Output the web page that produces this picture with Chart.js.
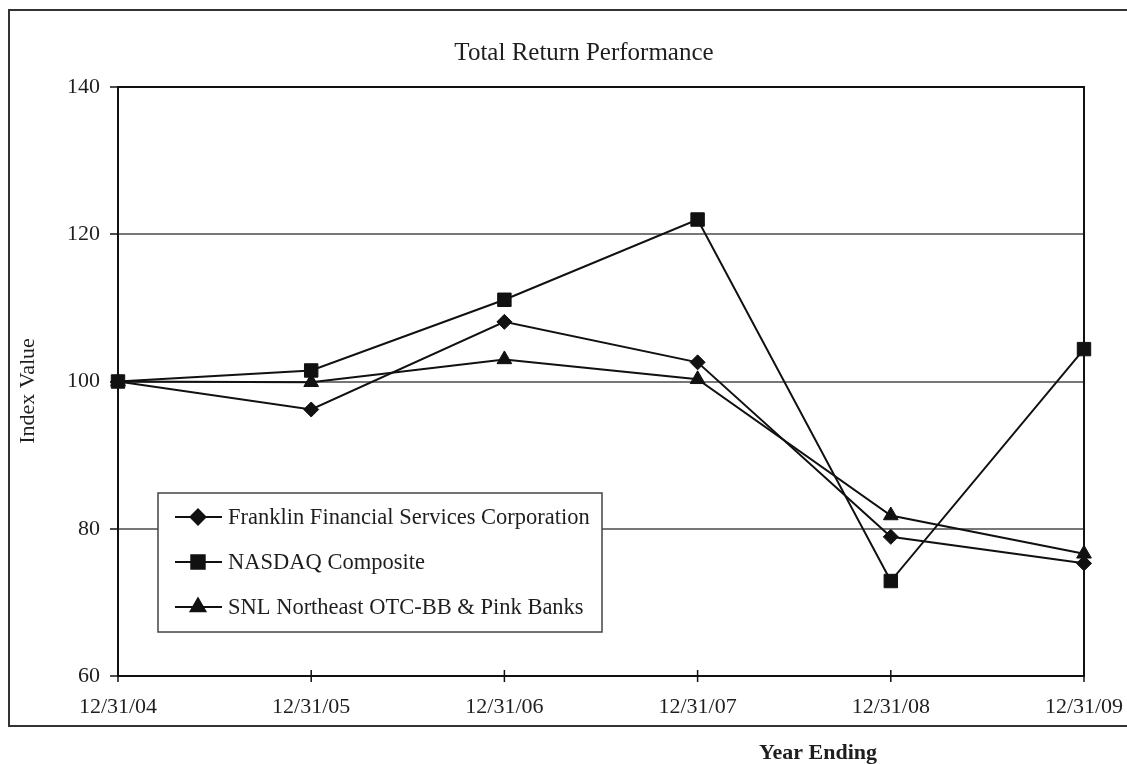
<!DOCTYPE html>
<html>
<head>
<meta charset="utf-8">
<script src="https://cdn.jsdelivr.net/npm/chart.js@4"></script>
<style>
  html, body { margin: 0; padding: 0; background: #fff; }
  #wrap { width: 1127px; height: 764px; position: relative; }
</style>
</head>
<body>
<div id="wrap"><canvas id="chart" width="1127" height="764"></canvas></div>
<script>
// chart data
const years = ["12/31/04", "12/31/05", "12/31/06", "12/31/07", "12/31/08", "12/31/09"];
const franklin = [100, 96.2, 108.1, 102.6, 78.9, 75.3];
const nasdaq = [100, 101.5, 111.1, 122.0, 72.9, 104.4];
const snl = [100, 99.9, 103.0, 100.3, 81.8, 76.6];
const seriesNames = [
  "Franklin Financial Services Corporation",
  "NASDAQ Composite",
  "SNL Northeast OTC-BB & Pink Banks"
];
const yTicks = [60, 80, 100, 120, 140];

const serif = "'Liberation Serif', 'Times New Roman', serif";
const ink = "#1e1e1e";

function series(label, values, style, radius) {
  return {
    label: label,
    data: values,
    borderColor: "#111",
    backgroundColor: "#111",
    borderWidth: 2,
    pointStyle: style,
    pointRadius: radius,
    pointHoverRadius: radius,
    pointBorderWidth: 1,
    tension: 0
  };
}

// frame, titles, plot box, legend box
const decorations = {
  id: "decorations",
  beforeDraw(chart) {
    const ctx = chart.ctx;
    ctx.save();
    ctx.fillStyle = "#fff";
    ctx.fillRect(0, 0, chart.width, chart.height);
    ctx.strokeStyle = "#333";
    ctx.lineWidth = 2;
    ctx.strokeRect(9, 10, 1140, 716);
    ctx.restore();
  },
  afterDraw(chart) {
    const ctx = chart.ctx;
    const a = chart.chartArea;
    ctx.save();
    ctx.strokeStyle = "#111";
    ctx.lineWidth = 2;
    ctx.strokeRect(a.left, a.top, a.right - a.left, a.bottom - a.top);

    // x ticks crossing the axis
    const xs = chart.scales.x;
    ctx.lineWidth = 1.5;
    xs.ticks.forEach((t, i) => {
      const px = xs.getPixelForTick(i);
      ctx.beginPath();
      ctx.moveTo(px, a.bottom - 6);
      ctx.lineTo(px, a.bottom + 6);
      ctx.stroke();
    });

    ctx.fillStyle = ink;
    ctx.textAlign = "center";
    ctx.textBaseline = "middle";
    ctx.font = "25px " + serif;
    ctx.fillText("Total Return Performance", 584, 53);
    ctx.font = "bold 22px " + serif;
    ctx.fillText("Year Ending", 818, 753);

    ctx.save();
    ctx.translate(28, 391);
    ctx.rotate(-Math.PI / 2);
    ctx.font = "22px " + serif;
    ctx.fillText("Index Value", 0, 0);
    ctx.restore();

    // legend
    const lx = 158, ly = 493, lw = 444, lh = 139;
    ctx.fillStyle = "#fff";
    ctx.fillRect(lx, ly, lw, lh);
    ctx.strokeStyle = "#444";
    ctx.lineWidth = 1.5;
    ctx.strokeRect(lx, ly, lw, lh);
    const rows = [517, 562, 607];
    chart.data.datasets.forEach((ds, i) => {
      const y = rows[i];
      ctx.strokeStyle = "#111";
      ctx.lineWidth = 2;
      ctx.beginPath();
      ctx.moveTo(175, y);
      ctx.lineTo(222, y);
      ctx.stroke();
      ctx.fillStyle = "#111";
      Chart.helpers.drawPoint(ctx, {
        pointStyle: ds.pointStyle,
        radius: ds.pointRadius,
        rotation: 0,
        borderWidth: 1
      }, 198, y);
      ctx.fillStyle = ink;
      ctx.textAlign = "left";
      ctx.font = "22.5px " + serif;
      ctx.fillText(ds.label, 228, y + 1);
    });
    ctx.restore();
  }
};

new Chart(document.getElementById("chart"), {
  type: "line",
  data: {
    labels: years,
    datasets: [
      series(seriesNames[0], franklin, "rectRot", 7.5),
      series(seriesNames[1], nasdaq, "rect", 9.5),
      series(seriesNames[2], snl, "triangle", 8.5)
    ]
  },
  options: {
    responsive: false,
    animation: false,
    layout: { padding: { top: 87, right: 43, left: 0, bottom: 0 } },
    plugins: {
      legend: { display: false },
      title: { display: false },
      tooltip: { enabled: false }
    },
    scales: {
      x: {
        offset: false,
        afterFit(scale) {
          scale.height = 88;
          scale.paddingLeft = 0;
          scale.paddingRight = 0;
        },
        grid: { drawOnChartArea: false, drawTicks: false },
        border: { display: false },
        ticks: {
          color: ink,
          padding: 18,
          maxRotation: 0,
          font: { family: serif, size: 22 }
        }
      },
      y: {
        min: 60,
        max: 140,
        afterFit(scale) { scale.width = 118; },
        afterBuildTicks(scale) { scale.ticks = yTicks.map(v => ({ value: v })); },
        grid: {
          color: "#777",
          lineWidth: 2,
          tickLength: 8,
          tickColor: "#111",
          tickWidth: 1.5
        },
        border: { display: false },
        ticks: {
          color: ink,
          padding: 10,
          font: { family: serif, size: 22 }
        }
      }
    }
  },
  plugins: [decorations]
});
</script>
</body>
</html>
